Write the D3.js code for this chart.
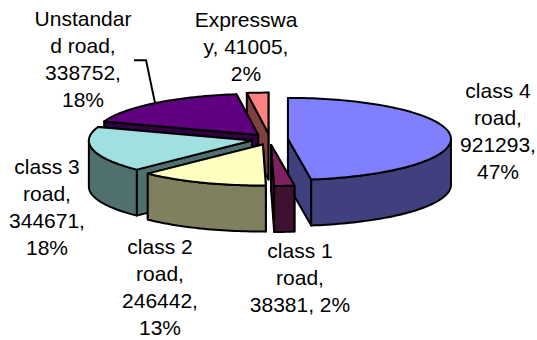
<!DOCTYPE html>
<html>
<head>
<meta charset="utf-8">
<script src="https://d3js.org/d3.v7.min.js"></script>
<style>
html, body { margin: 0; background: #fff; }
text { font-family: "Liberation Sans", Arial, sans-serif; font-size: 21px; fill: #000; text-anchor: middle; }
.face { stroke: #000; stroke-width: 2px; stroke-linejoin: round; }
</style>
</head>
<body>
<script>
var roads = ["class 4 road", "class 1 road", "class 2 road", "class 3 road", "Unstandard road", "Expressway"];
var lengths = [921293, 38381, 246442, 344671, 338752, 41005];
var percents = ["47%", "2%", "13%", "18%", "18%", "2%"];
var topColors = ["#8080ff", "#802060", "#ffffc0", "#a0e0e0", "#600080", "#ff8080"];
var sideColors = ["#40407f", "#401030", "#80805f", "#507070", "#300040", "#804040"];

// wrapped label lines and where each block sits
var labelLines = [
  ["class 4", "road,", "921293,", "47%"],
  ["class 1", "road,", "38381, 2%"],
  ["class 2", "road,", "246442,", "13%"],
  ["class 3", "road,", "344671,", "18%"],
  ["Unstandar", "d road,", "338752,", "18%"],
  ["Expresswa", "y, 41005,", "2%"]
];
var labelX = [498, 300, 160, 47, 83, 246];
var labelY = [98, 258, 254, 174, 26, 27];

var width = 537, height = 340;
var cx = 269.7, cy = 139.3, rx = 163, ry = 41, depth = 46;
var explodeX = 18.3, explodeY = 5.7;
var lineGap = 27;

var svg = d3.select("body").append("svg").attr("width", width).attr("height", height).style("display", "block");

var slices = d3.pie().sort(null).value(function(d, i) { return d; })(lengths);

function rim(a, o, down) {
  return [o[0] + rx * Math.sin(a), o[1] - ry * Math.cos(a) + (down || 0)];
}
function sample(a0, a1) {
  var n = Math.max(2, Math.ceil((a1 - a0) * 40));
  return d3.range(n + 1).map(function(i) { return a0 + (a1 - a0) * i / n; });
}
var line = d3.line();

slices.forEach(function(s, i) {
  var mid = (s.startAngle + s.endAngle) / 2;
  s.origin = [cx + explodeX * Math.sin(mid), cy - explodeY * Math.cos(mid)];
  s.mid = mid;
  s.idx = i;
});

// back to front: top of the pie first, the two nearest wedges last
var order = [5, 4, 3, 0, 2, 1];
order.forEach(function(k) {
  var s = slices[k], o = s.origin;
  var g = svg.append("g");

  // cut faces, the one further back first
  [s.startAngle, s.endAngle]
    .sort(function(a, b) { return rim(a, o)[1] - rim(b, o)[1]; })
    .forEach(function(a) {
      var p = rim(a, o);
      g.append("path").attr("class", "face").attr("fill", sideColors[k])
        .attr("d", line([o, p, [p[0], p[1] + depth], [o[0], o[1] + depth]]) + "Z");
    });

  // outer wall only on the front half
  var w0 = Math.max(s.startAngle, Math.PI / 2), w1 = Math.min(s.endAngle, Math.PI * 1.5);
  if (w1 > w0) {
    var upper = sample(w0, w1).map(function(a) { return rim(a, o); });
    var lower = sample(w0, w1).reverse().map(function(a) { return rim(a, o, depth); });
    g.append("path").attr("class", "face").attr("fill", sideColors[k])
      .attr("d", line(upper.concat(lower)) + "Z");
  }

  var top = [o].concat(sample(s.startAngle, s.endAngle).map(function(a) { return rim(a, o); }));
  g.append("path").attr("class", "face").attr("fill", topColors[k]).attr("d", line(top) + "Z");
});

// leader for the label that sits away from its wedge
var u = slices[4], start = rim(u.mid, u.origin);
svg.append("path").attr("fill", "none").attr("stroke", "#000").attr("stroke-width", 2)
  .attr("d", line([start, [start[0] - 9, start[1] - 43], [start[0] - 21, start[1] - 43]]));

labelLines.forEach(function(lines, i) {
  var t = svg.append("text").attr("x", labelX[i]).attr("y", labelY[i]);
  lines.forEach(function(l, j) {
    t.append("tspan").attr("x", labelX[i]).attr("y", labelY[i] + j * lineGap).text(l);
  });
});
</script>
</body>
</html>
